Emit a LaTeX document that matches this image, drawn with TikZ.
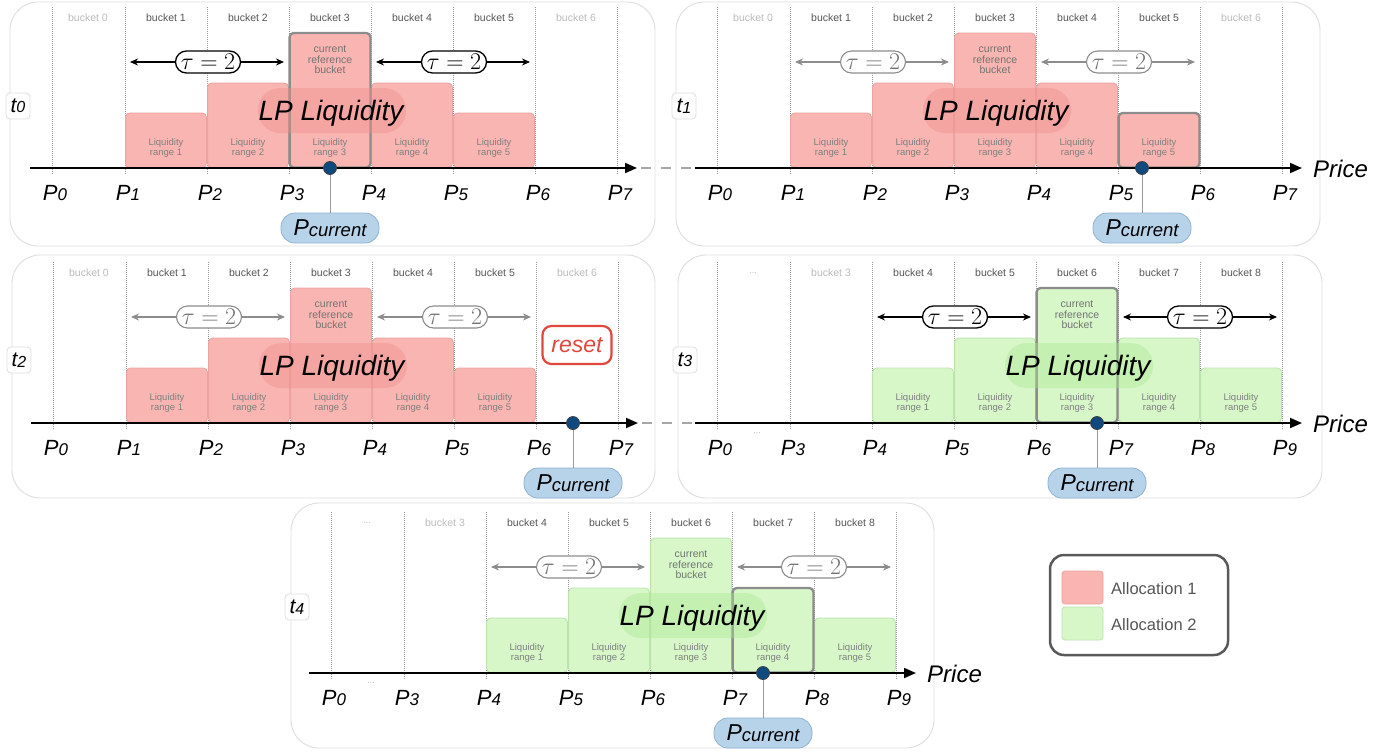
\documentclass[tikz,border=0pt]{standalone}
\usepackage{fix-cm}
\usepackage[no-math]{fontspec}
\setmainfont{Liberation Sans}
\usetikzlibrary{arrows.meta}
\definecolor{pinkf}{HTML}{F9B5B1}
\definecolor{pinkd}{HTML}{EDA39F}
\definecolor{pinkg}{HTML}{F08E89}
\definecolor{greenf}{HTML}{D7F7C9}
\definecolor{greend}{HTML}{BDE3AD}
\definecolor{greeng}{HTML}{A9E68E}
\definecolor{bluef}{HTML}{B6D3EA}
\definecolor{blued}{HTML}{8FB2D0}
\definecolor{dotc}{HTML}{0E4A7E}
\definecolor{resetc}{HTML}{E0473D}
\definecolor{panelc}{HTML}{DDDDDD}
\definecolor{txtg}{HTML}{555555}
\definecolor{txtl}{HTML}{BBBBBB}
\definecolor{arrg}{HTML}{8C8C8C}
\newcommand\fsz[1]{\fontsize{#1}{#1}\selectfont}
\newcommand\tdots{...}
\newcommand\Pl[1]{{\fsz{22}\itshape P\raisebox{-0.5pt}{\fsz{17}#1}}}
\newcommand\Pcur{{\fsz{23}\itshape P\raisebox{-1pt}{\fsz{18.5}current}}}
\newcommand\tlab[1]{{\fsz{21}\itshape t\raisebox{-0.5pt}{\fsz{16}#1}}}
\newcommand\vlines{\foreach \x in {52,125,207,289,371,453,535,617}{\draw[vline] (\x,7) -- (\x,175);}}
\newcommand\buckets[2]{\foreach \x/\t/\s [count=\i] in {#2}{\node[\s] (#1-b\i) at (\x,18) {\t};}}
\newcommand\blocks[3]{\foreach \a/\b/\h/\k in {#3}{\draw[#2] (\a+0.6,\h) rectangle (\b-0.6,167.5);\node[rng] (#1-r\k) at ({(\a+\b)/2},148) {Liquidity\\range \k};}}
\newcommand\plabels[2]{\foreach \x/\n in {#2}{\node[plab] (#1-p\n) at (\x+3,200) {\Pl{\n}};}}
\newcommand\taus[4]{\foreach \l/\r/\c [count=\i] in {#4}{\coordinate (#1-tl\i) at (\l,62); \coordinate (#1-tr\i) at (\r,62); \draw[#2] (#1-tl\i) -- (#1-tr\i); \node[#3] (#1-tau\i) at (\c,62) {$\tau = 2$};}}
\newcommand\lp[3]{\fill[#2, opacity=0.4, rounded corners=22pt] (#3-73,88) rectangle (#3+75,133);\node[lpl] (#1-lp) at (#3,120) {LP Liquidity};}
\newcommand\axcur[2]{\coordinate (#1-a0) at (30,168); \coordinate (#1-a1) at (637,168);
 \coordinate (#1-s) at (28,168); \coordinate (#1-e) at (641,168);
 \draw[axis] (#1-a0) -- (#1-a1);
 \node[pcurn] (#1-pc) at (#2,228) {\Pcur};
 \node[dotn] (#1-dot) at (#2,168) {};
 \draw[pline] (#1-dot.south) -- (#1-pc.north);}
\tikzset{
 panel/.style={draw=panelc, line width=0.9pt, rounded corners=28pt, fill=white},
 vline/.style={draw=black!40, line width=0.5pt, dash pattern=on 1pt off 1pt},
 bk/.style={font=\fsz{10.5}, text=txtg},
 bkf/.style={font=\fsz{10.5}, text=txtl},
 blkp/.style={fill=pinkf, draw=pinkd, line width=0.8pt, rounded corners=4pt},
 blkg/.style={fill=greenf, draw=greend, line width=0.8pt, rounded corners=4pt},
 cur/.style={draw=black!45, line width=2.3pt, rounded corners=4pt},
 rng/.style={font=\fsz{9.5}, text=black!50, align=center, inner sep=0pt},
 refl/.style={font=\fsz{10.5}, text=black!55, align=center, inner sep=0pt, text depth=0pt},
 lpl/.style={font=\fsz{28}\itshape, anchor=base, inner sep=0pt},
 plab/.style={anchor=base, inner sep=0pt},
 axis/.style={line width=1.8pt, -{Triangle[length=12pt,width=10pt]}},
 link/.style={draw=black!35, line width=1.2pt, dash pattern=on 10pt off 10pt},
 tauk/.style={line width=1.1pt, {Stealth[length=8pt,width=7pt]}-{Stealth[length=8pt,width=7pt]}},
 taug/.style={line width=1.1pt, draw=arrg, {Stealth[length=8pt,width=7pt]}-{Stealth[length=8pt,width=7pt]}},
 taubk/.style={draw=black, line width=1.3pt, fill=white, rounded corners=11pt, minimum width=65pt, minimum height=22pt, inner sep=0pt, font=\fsz{24}},
 taubg/.style={draw=black!45, line width=1.1pt, fill=white, text=black!55, rounded corners=11pt, minimum width=65pt, minimum height=22pt, inner sep=0pt, font=\fsz{24}},
 tbox/.style={draw=panelc, line width=0.8pt, fill=white, rounded corners=4pt, minimum width=24pt, minimum height=26pt, inner sep=1pt},
 pcurn/.style={fill=bluef, draw=blued, line width=0.8pt, rounded corners=14pt, minimum width=98pt, minimum height=30pt, inner sep=1pt},
 dotn/.style={circle, fill=dotc, draw=black!75, line width=0.8pt, minimum size=13pt, inner sep=0pt},
 pline/.style={draw=black!40, line width=1pt},
 pricel/.style={font=\fsz{24}\itshape, anchor=base west, inner sep=0pt},
 dots/.style={font=\fsz{9}, text=txtl},
 resetn/.style={draw=resetc, line width=2.2pt, rounded corners=9pt, text=resetc, font=\fsz{23}\itshape, minimum width=69pt, minimum height=38pt, inner sep=1pt},
 legbox/.style={draw=black!65, line width=2.5pt, rounded corners=14pt, fill=white},
 swp/.style={fill=pinkf, draw=pinkd, line width=0.8pt, rounded corners=3pt, minimum width=41pt, minimum height=33pt, inner sep=0pt},
 swg/.style={fill=greenf, draw=greend, line width=0.8pt, rounded corners=3pt, minimum width=41pt, minimum height=33pt, inner sep=0pt},
 legt/.style={font=\fsz{16.5}, text=txtg, anchor=west, inner sep=0pt}
}
\begin{document}
\begin{tikzpicture}[x=1pt,y=-1pt]
\useasboundingbox (0,0) rectangle (1400,753);
\fill[white] (0,0) rectangle (1400,753);
% panel frames
\draw[panel] (10,2) rectangle (655,246);
\draw[panel] (676,2) rectangle (1320,246);
\draw[panel] (12,255) rectangle (655,498);
\draw[panel] (678,255) rectangle (1322,498);
\draw[panel] (291,503) rectangle (934,748);
% ---------- t0
\begin{scope}
\node[tbox] (t0-lab) at (18,106) {\tlab{0}};
\vlines
\buckets{t0}{88/bucket 0/bkf,166/bucket 1/bk,248/bucket 2/bk,330/bucket 3/bk,412/bucket 4/bk,494/bucket 5/bk,576/bucket 6/bkf}
\blocks{t0}{blkp}{125/207/113/1,207/289/83/2,289/371/33/3,371/453/83/4,453/535/113/5}
\node[refl] (t0-ref) at (330,60) {current\\reference\\bucket};
\draw[cur] (289.6,33) rectangle (370.4,167.5);
\lp{t0}{pinkg}{331}
\taus{t0}{tauk}{taubk}{130/284/208,376/530/454}
\axcur{t0}{330}
\plabels{t0}{52/0,125/1,207/2,289/3,371/4,453/5,535/6,617/7}
\end{scope}
% ---------- t1
\begin{scope}[shift={(665,0)}]
\node[tbox] (t1-lab) at (19,106) {\tlab{1}};
\vlines
\buckets{t1}{88/bucket 0/bkf,166/bucket 1/bk,248/bucket 2/bk,330/bucket 3/bk,412/bucket 4/bk,494/bucket 5/bk,576/bucket 6/bkf}
\blocks{t1}{blkp}{125/207/113/1,207/289/83/2,289/371/33/3,371/453/83/4,453/535/113/5}
\node[refl] (t1-ref) at (330,60) {current\\reference\\bucket};
\draw[cur] (453.6,113) rectangle (534.4,167.5);
\lp{t1}{pinkg}{331}
\taus{t1}{taug}{taubg}{130/284/208,376/530/454}
\axcur{t1}{477}
\plabels{t1}{52/0,125/1,207/2,289/3,371/4,453/5,535/6,617/7}
\node[pricel] (t1-price) at (648,177) {Price};
\end{scope}
% ---------- t2
\begin{scope}[shift={(1,255)}]
\node[tbox] (t2-lab) at (18,105) {\tlab{2}};
\vlines
\buckets{t2}{88/bucket 0/bkf,166/bucket 1/bk,248/bucket 2/bk,330/bucket 3/bk,412/bucket 4/bk,494/bucket 5/bk,576/bucket 6/bkf}
\blocks{t2}{blkp}{125/207/113/1,207/289/83/2,289/371/33/3,371/453/83/4,453/535/113/5}
\node[refl] (t2-ref) at (330,60) {current\\reference\\bucket};
\lp{t2}{pinkg}{331}
\taus{t2}{taug}{taubg}{130/284/208,376/530/454}
\node[resetn] (t2-reset) at (576,90) {reset};
\axcur{t2}{572}
\plabels{t2}{52/0,125/1,207/2,289/3,371/4,453/5,535/6,617/7}
\end{scope}
% ---------- t3
\begin{scope}[shift={(665,255)}]
\node[tbox] (t3-lab) at (20,105) {\tlab{3}};
\vlines
\buckets{t3}{88/\tdots/dots,166/bucket 3/bkf,248/bucket 4/bk,330/bucket 5/bk,412/bucket 6/bk,494/bucket 7/bk,576/bucket 8/bk}
\blocks{t3}{blkg}{207/289/113/1,289/371/83/2,371/453/33/3,453/535/83/4,535/617/113/5}
\node[refl] (t3-ref) at (412,60) {current\\reference\\bucket};
\draw[cur] (371.6,33) rectangle (452.4,167.5);
\lp{t3}{greeng}{413}
\taus{t3}{tauk}{taubk}{212/366/290,458/612/535}
\axcur{t3}{432}
\plabels{t3}{52/0,125/3,207/4,289/5,371/6,453/7,535/8,617/9}
\node[dots] (t3-dd) at (92,178) {\tdots};
\node[pricel] (t3-price) at (648,177) {Price};
\end{scope}
% ---------- t4
\begin{scope}[shift={(279,505)}]
\node[tbox] (t4-lab) at (18,102) {\tlab{4}};
\vlines
\buckets{t4}{88/\tdots/dots,166/bucket 3/bkf,248/bucket 4/bk,330/bucket 5/bk,412/bucket 6/bk,494/bucket 7/bk,576/bucket 8/bk}
\blocks{t4}{blkg}{207/289/113/1,289/371/83/2,371/453/33/3,453/535/83/4,535/617/113/5}
\node[refl] (t4-ref) at (412,60) {current\\reference\\bucket};
\draw[cur] (453.6,83) rectangle (534.4,167.5);
\lp{t4}{greeng}{413}
\taus{t4}{taug}{taubg}{212/366/290,458/612/535}
\axcur{t4}{484}
\plabels{t4}{52/0,125/3,207/4,289/5,371/6,453/7,535/8,617/9}
\node[dots] (t4-dd) at (92,178) {\tdots};
\node[pricel] (t4-price) at (648,177) {Price};
\end{scope}
% links between panels
\draw[link] (t0-e) -- (t1-s);
\draw[link] (t2-e) -- (t3-s);
% legend
\draw[legbox] (1050,555) rectangle (1228,655);
\node[swp] (leg-s1) at (1082.5,587.5) {};
\node[swg] (leg-s2) at (1082.5,623.5) {};
\node[legt] (leg-t1) at (1111,589) {Allocation 1};
\node[legt] (leg-t2) at (1111,625) {Allocation 2};
\end{tikzpicture}
\end{document}
